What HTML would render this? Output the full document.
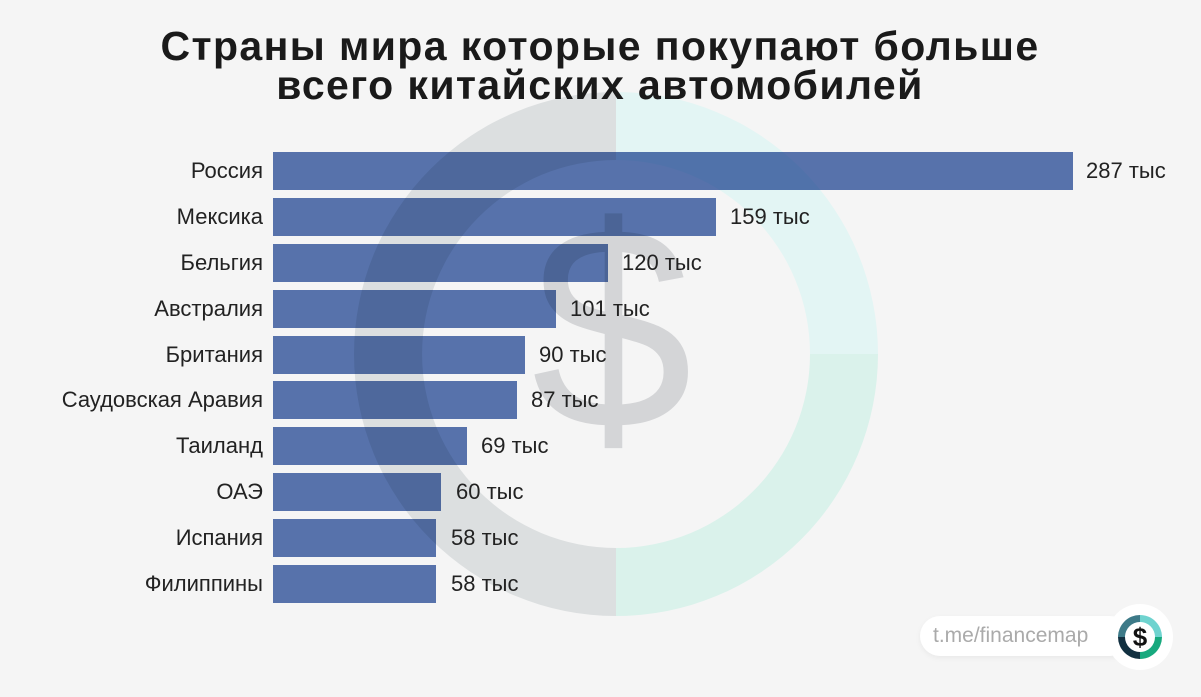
<!DOCTYPE html>
<html><head><meta charset="utf-8"><style>
body{margin:0;width:1201px;height:697px;background:#f5f5f5;overflow:hidden;position:relative;font-family:"Liberation Sans","DejaVu Sans",sans-serif;}
.t{position:absolute;left:0;width:1200px;text-align:center;font-weight:bold;font-size:41px;line-height:39px;color:#1a1a1a;top:27px;letter-spacing:1.4px}
.bar{position:absolute;left:273px;height:38px;background:#5a77b2;mix-blend-mode:multiply}
.lab{position:absolute;right:938px;font-size:22px;color:#222;line-height:38px}
.val{position:absolute;font-size:22px;color:#222;line-height:38px}
</style></head><body>
<svg width="1201" height="697" style="position:absolute;left:0;top:0">
<g>
<path d="M616 92 A262 262 0 0 1 878 354 L810 354 A194 194 0 0 0 616 160 Z" fill="#e3f5f4"/>
<path d="M878 354 A262 262 0 0 1 616 616 L616 548 A194 194 0 0 0 810 354 Z" fill="#daf2eb"/>
<path d="M616 616 A262 262 0 0 1 616 92 L616 160 A194 194 0 0 0 616 548 Z" fill="#dcdfe0"/>
</g>
<text x="612" y="428" font-size="290" fill="#d4d5d7" text-anchor="middle" font-family="Liberation Sans">$</text>
</svg>
<div class="t">Страны мира которые покупают больше<br>всего китайских автомобилей</div>
<div class="bar" style="top:152px;width:800px"></div><div class="lab" style="top:152px">Россия</div><div class="val" style="top:152px;left:1086px">287 тыс</div>
<div class="bar" style="top:198px;width:443px"></div><div class="lab" style="top:198px">Мексика</div><div class="val" style="top:198px;left:730px">159 тыс</div>
<div class="bar" style="top:244px;width:335px"></div><div class="lab" style="top:244px">Бельгия</div><div class="val" style="top:244px;left:622px">120 тыс</div>
<div class="bar" style="top:290px;width:283px"></div><div class="lab" style="top:290px">Австралия</div><div class="val" style="top:290px;left:570px">101 тыс</div>
<div class="bar" style="top:336px;width:252px"></div><div class="lab" style="top:336px">Британия</div><div class="val" style="top:336px;left:539px">90 тыс</div>
<div class="bar" style="top:381px;width:244px"></div><div class="lab" style="top:381px">Саудовская Аравия</div><div class="val" style="top:381px;left:531px">87 тыс</div>
<div class="bar" style="top:427px;width:194px"></div><div class="lab" style="top:427px">Таиланд</div><div class="val" style="top:427px;left:481px">69 тыс</div>
<div class="bar" style="top:473px;width:168px"></div><div class="lab" style="top:473px">ОАЭ</div><div class="val" style="top:473px;left:456px">60 тыс</div>
<div class="bar" style="top:519px;width:163px"></div><div class="lab" style="top:519px">Испания</div><div class="val" style="top:519px;left:451px">58 тыс</div>
<div class="bar" style="top:565px;width:163px"></div><div class="lab" style="top:565px">Филиппины</div><div class="val" style="top:565px;left:451px">58 тыс</div>
<div style="position:absolute;left:920px;top:616px;width:210px;height:40px;background:#fff;border-radius:20px;box-shadow:0 2px 6px rgba(0,0,0,0.05)"></div>
<div style="position:absolute;left:933px;top:620px;font-size:21px;color:#aaa;line-height:32px">t.me/financemap</div>
<div style="position:absolute;left:1107px;top:604px;width:66px;height:66px;border-radius:50%;background:#fff"></div>
<svg width="60" height="60" style="position:absolute;left:1110px;top:607px" viewBox="0 0 60 60">
<path d="M30 8 A22 22 0 0 1 52 30 L45 30 A15 15 0 0 0 30 15Z" fill="#6fd3cf"/>
<path d="M52 30 A22 22 0 0 1 30 52 L30 45 A15 15 0 0 0 45 30Z" fill="#17a97e"/>
<path d="M30 52 A22 22 0 0 1 8 30 L15 30 A15 15 0 0 0 30 45Z" fill="#123040"/>
<path d="M8 30 A22 22 0 0 1 30 8 L30 15 A15 15 0 0 0 15 30Z" fill="#3d7a88"/>
<text x="30" y="39" font-size="26" font-weight="bold" text-anchor="middle" fill="#111" font-family="Liberation Sans">$</text>
</svg>
</body></html>
